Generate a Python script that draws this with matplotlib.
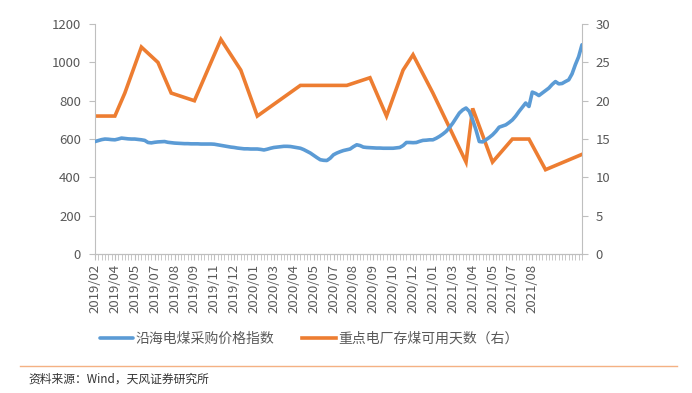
import matplotlib
matplotlib.use("Agg")
import matplotlib.pyplot as plt
from matplotlib.ticker import FixedLocator, MultipleLocator

plt.rcParams['font.family'] = ['Noto Sans CJK SC', 'DejaVu Sans']

# 沿海电煤采购价格指数 (weekly, left axis)
price = [587, 592, 597, 600, 599, 597, 596, 600, 605, 603,
         601, 600, 600, 598, 596, 593, 582, 580, 583, 585,
         586, 587, 583, 581, 579, 578, 577, 576, 576, 575,
         575, 575, 574, 574, 574, 574, 573, 570, 567, 564,
         561, 558, 556, 553, 551, 549, 549, 548, 548, 548,
         546, 543, 547, 552, 556, 558, 560, 562, 562, 561,
         558, 555, 552, 545, 536, 527, 515, 503, 492, 489,
         488, 500, 518, 527, 534, 540, 544, 548, 560, 570,
         566, 558, 556, 555, 554, 553, 553, 552, 552, 552,
         552, 554, 556, 566, 582, 582, 581, 582, 588, 593,
         594, 596, 596, 604, 614, 626, 640, 660, 683, 710,
         736, 752, 762, 744, 700, 648, 587, 585, 596, 608,
         622, 640, 662, 668, 674, 686, 700, 720, 744, 766,
         788, 770, 845, 838, 827, 840, 853, 866, 885, 900,
         888, 890, 900, 909, 940, 988, 1030, 1092]

# 重点电厂存煤可用天数 (right axis), observed at these week positions
days_idx = [0, 6, 9, 14, 19, 23, 30, 38, 44, 49, 62, 76, 83, 88, 93, 96,
            102, 112, 114, 120, 126, 131, 136, 147]
days = [18, 18, 21, 27, 25, 21, 20, 28, 24, 18, 22, 22, 23, 18, 24, 26,
        21, 12, 19, 12, 15, 15, 11, 13]

labels = ['2019/02', '2019/04', '2019/05', '2019/07', '2019/08', '2019/09',
          '2019/11', '2019/12', '2020/01', '2020/03', '2020/04', '2020/05',
          '2020/07', '2020/08', '2020/09', '2020/10', '2020/12', '2021/01',
          '2021/03', '2021/04', '2021/05', '2021/07', '2021/08']

blue = '#5b9bd5'
orange = '#ed7d31'
grey = '#595959'
axis_c = '#bfbfbf'

fig = plt.figure(figsize=(6.92, 3.93), dpi=100)
ax = fig.add_axes([0.1373, 0.3537, 0.7037, 0.585])
ax2 = ax.twinx()

x = list(range(len(price)))
l1, = ax.plot(x, price, color=blue, lw=2.6, solid_capstyle='round', zorder=3)
l2, = ax2.plot(days_idx, days, color=orange, lw=2.6, solid_joinstyle='miter')
ax.set_zorder(ax2.get_zorder() + 1)
ax.patch.set_visible(False)

ax.set_xlim(0, len(price) - 1)
ax.set_ylim(0, 1200)
ax2.set_ylim(0, 30)
ax.yaxis.set_major_locator(MultipleLocator(200))
ax2.yaxis.set_major_locator(MultipleLocator(5))

ax.xaxis.set_major_locator(FixedLocator([i * 6 for i in range(len(labels))]))
ax.set_xticklabels(labels, rotation=90)
ax.xaxis.set_minor_locator(MultipleLocator(1))

for a in (ax, ax2):
    for s in a.spines.values():
        s.set_color(axis_c)
    a.spines['top'].set_visible(False)
ax.spines['right'].set_visible(False)
ax2.spines['left'].set_visible(False)

ax.tick_params(axis='y', colors=grey, labelsize=9.5, length=4, width=0.8, color=axis_c, pad=6)
ax2.tick_params(axis='y', colors=grey, labelsize=9.5, length=4, width=0.8, color=axis_c, pad=6)
ax.tick_params(axis='x', which='major', colors=grey, labelsize=9.5, length=4, width=0.8, color=axis_c, pad=3)
ax.tick_params(axis='x', which='minor', length=4, width=0.6, color=axis_c)
for t in ax.get_yticklabels() + ax2.get_yticklabels() + ax.get_xticklabels():
    t.set_color(grey)

fig.legend([l1, l2], ['沿海电煤采购价格指数', '重点电厂存煤可用天数（右）'],
           loc='center', bbox_to_anchor=(0.447, 0.138), ncol=2, frameon=False,
           fontsize=10, handlelength=2.4, handletextpad=0.2, columnspacing=2.0,
           labelcolor=grey)

fig.add_artist(plt.Line2D([20 / 692, 677 / 692], [1 - 366 / 393, 1 - 366 / 393],
                          color='#f4b183', lw=1.0))
fig.text(28 / 692, 1 - 379 / 393, '资料来源：Wind，天风证券研究所', fontsize=8.5,
         color='#333333', va='center', ha='left')

fig.savefig('out.png', dpi=100)
